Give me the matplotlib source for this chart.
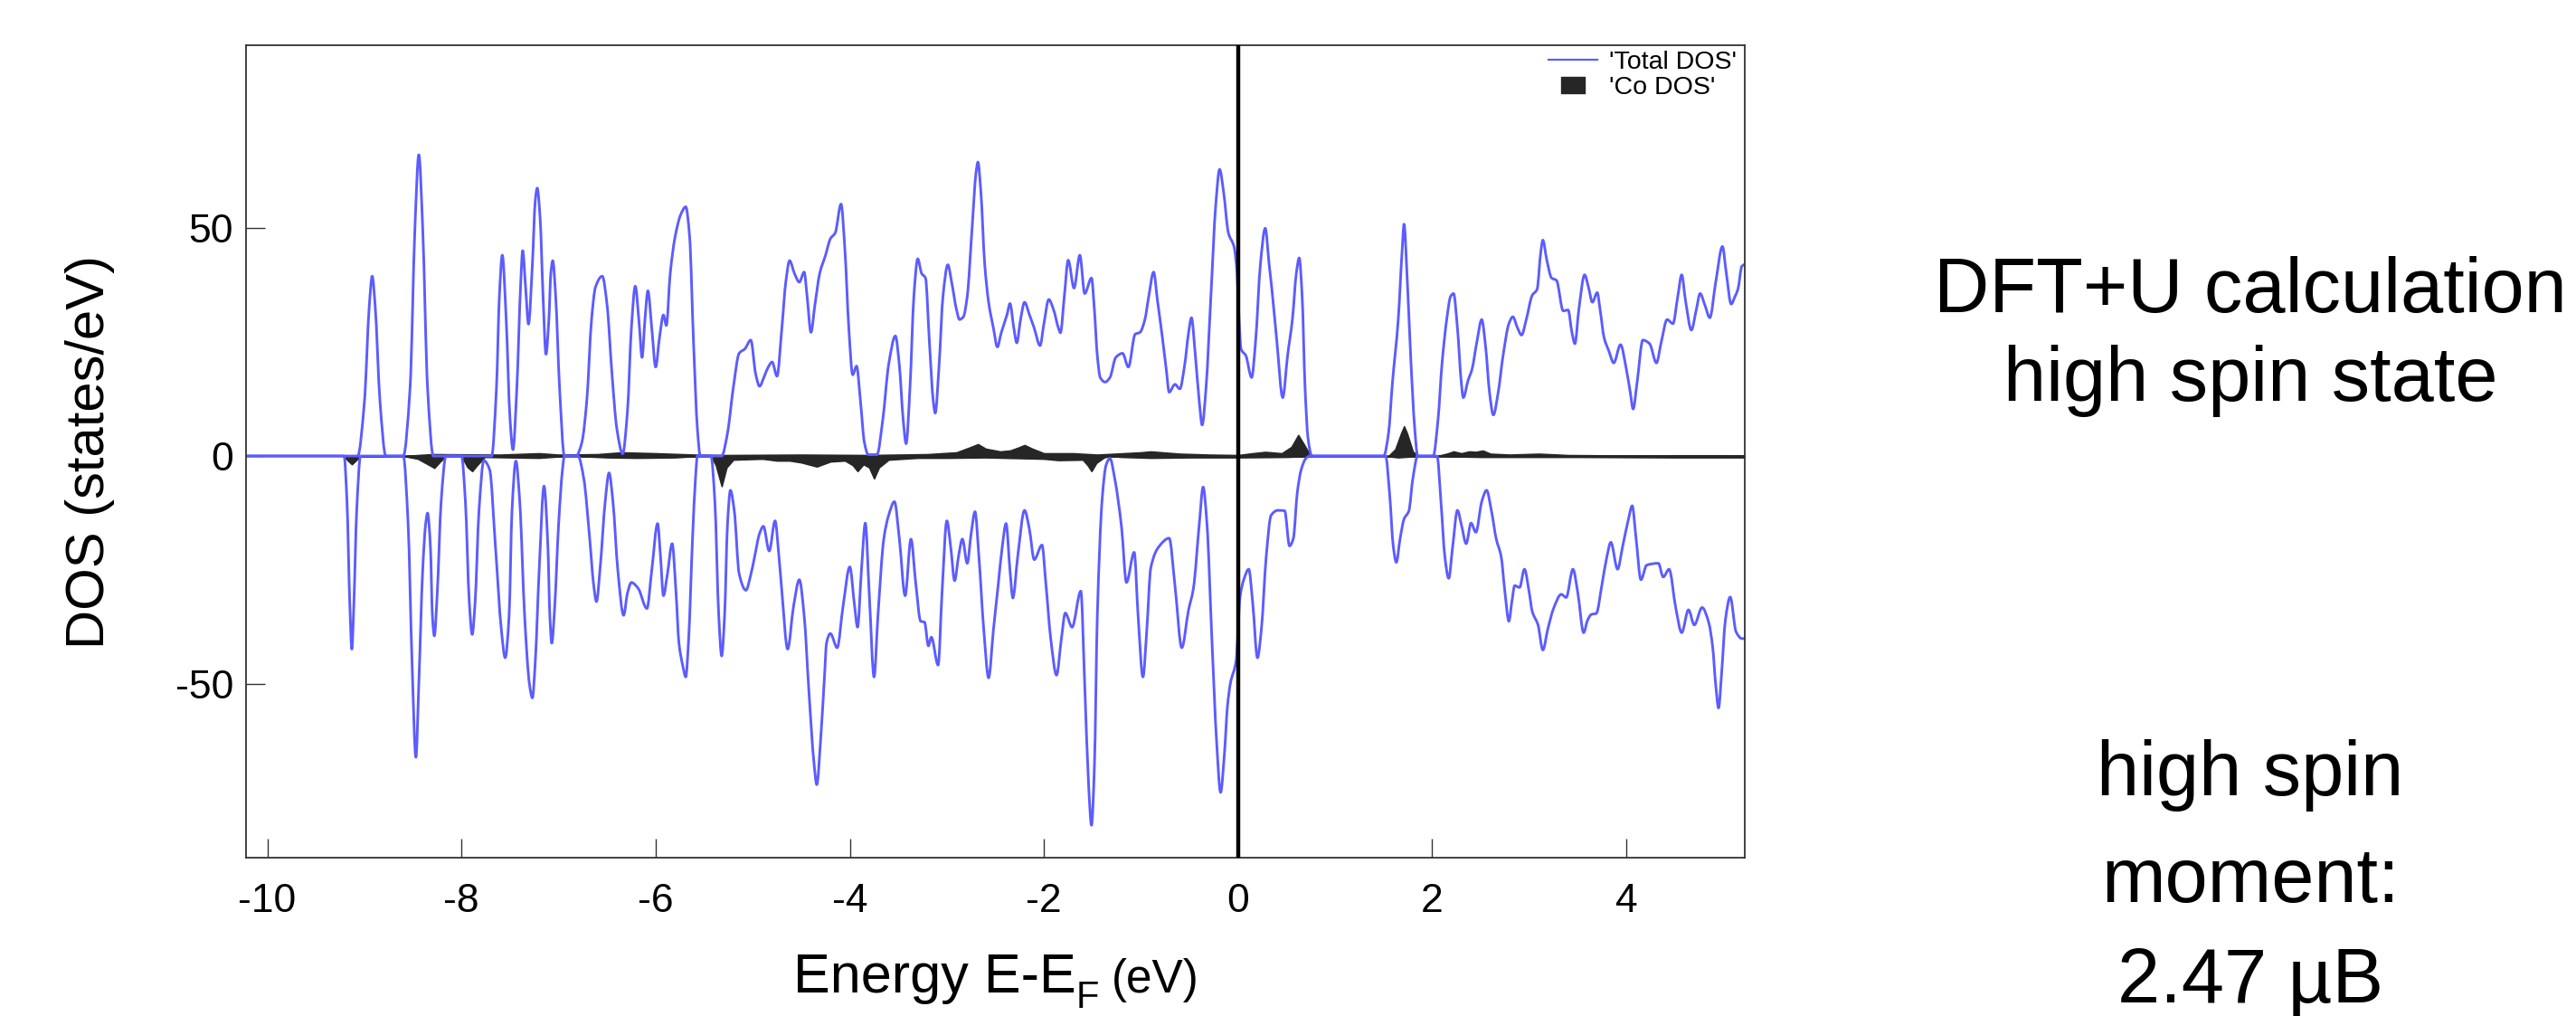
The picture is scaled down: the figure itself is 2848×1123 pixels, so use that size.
import matplotlib.pyplot as plt
from matplotlib.lines import Line2D
from matplotlib.path import Path
from matplotlib.patches import PathPatch
import numpy as np

plt.rcParams['font.family'] = ['Liberation Sans', 'DejaVu Sans']
plt.rcParams['axes.unicode_minus'] = False

# total DOS, majority spin: (E - E_F in eV, states/eV)
total_up = np.array([
    (-10.22, 0), (-9.07, 0), (-9.0, 12), (-8.95, 33), (-8.92, 39.4), (-8.89, 33), (-8.84, 12), (-8.78, 0),
    (-8.60, 0), (-8.53, 15), (-8.48, 50), (-8.44, 66), (-8.40, 50), (-8.35, 15), (-8.29, 0),
    (-7.69, 0), (-7.64, 15), (-7.61, 35), (-7.58, 44), (-7.54, 30), (-7.50, 8), (-7.47, 1.4), (-7.43, 15),
    (-7.39, 38), (-7.37, 45), (-7.34, 37), (-7.31, 28.9), (-7.27, 42), (-7.24, 56), (-7.22, 58.7), (-7.19, 52),
    (-7.16, 35), (-7.13, 22.3), (-7.10, 30), (-7.08, 40), (-7.06, 42.8), (-7.03, 35), (-6.99, 15), (-6.94, 0),
    (-6.82, 0), (-6.76, 3), (-6.71, 12), (-6.66, 30), (-6.62, 37), (-6.55, 39.4), (-6.50, 33), (-6.45, 18),
    (-6.40, 6), (-6.34, 0.5), (-6.29, 10), (-6.25, 28), (-6.21, 37.2), (-6.17, 29), (-6.14, 21.6), (-6.11, 30),
    (-6.08, 36.2), (-6.04, 28), (-6.00, 19.5), (-5.96, 26), (-5.92, 30.9), (-5.89, 28.6), (-5.85, 40), (-5.80, 48),
    (-5.74, 53), (-5.69, 54.6), (-5.65, 48), (-5.61, 25), (-5.57, 6), (-5.54, 0),
    (-5.32, 0), (-5.26, 5), (-5.20, 15), (-5.14, 22.5), (-5.08, 23.5), (-5.02, 25.4), (-4.97, 18), (-4.93, 15.3),
    (-4.88, 17.5), (-4.84, 19.5), (-4.80, 20.6), (-4.75, 17.5), (-4.70, 28), (-4.66, 38), (-4.62, 42.8),
    (-4.57, 40), (-4.52, 38.1), (-4.47, 40.3), (-4.44, 35), (-4.40, 27.1), (-4.36, 33), (-4.31, 40), (-4.25, 44),
    (-4.20, 47.6), (-4.15, 48.9), (-4.09, 55.2), (-4.05, 45), (-4.01, 28), (-3.97, 17.8), (-3.93, 19.7),
    (-3.89, 12), (-3.85, 3), (-3.81, 0.3), (-3.72, 0.3), (-3.66, 8), (-3.60, 20), (-3.53, 26.3), (-3.49, 20),
    (-3.45, 8), (-3.42, 2.7), (-3.38, 15), (-3.34, 35), (-3.30, 43.2), (-3.26, 40), (-3.22, 39), (-3.18, 25),
    (-3.14, 12), (-3.12, 9.4), (-3.08, 20), (-3.04, 35), (-2.99, 41.9), (-2.95, 38), (-2.90, 32), (-2.87, 29.9),
    (-2.83, 30.5), (-2.79, 35), (-2.74, 50), (-2.70, 62), (-2.68, 64.4), (-2.65, 58), (-2.61, 42), (-2.57, 33.7),
    (-2.52, 28), (-2.48, 23.9), (-2.44, 27), (-2.38, 31), (-2.35, 33.4), (-2.31, 28), (-2.28, 24.8), (-2.24, 30),
    (-2.20, 33.7), (-2.15, 31), (-2.10, 28), (-2.04, 24.2), (-2.00, 29), (-1.95, 34.3), (-1.90, 32), (-1.85, 28),
    (-1.83, 27), (-1.79, 35), (-1.75, 42.9), (-1.69, 36.8), (-1.63, 44), (-1.58, 35.6), (-1.51, 39), (-1.48, 32),
    (-1.45, 22), (-1.42, 17.2), (-1.37, 16.2), (-1.32, 17.2), (-1.26, 21.6), (-1.19, 22.5), (-1.13, 19.5),
    (-1.06, 26.7), (-1.01, 27.1), (-0.96, 29.9), (-0.92, 35), (-0.87, 40.3), (-0.83, 34), (-0.78, 26),
    (-0.74, 19), (-0.71, 14), (-0.65, 15.7), (-0.60, 14.7), (-0.55, 20), (-0.51, 27), (-0.48, 30.3), (-0.44, 22),
    (-0.40, 12), (-0.37, 6.8), (-0.33, 15), (-0.28, 35), (-0.23, 55), (-0.19, 62.8), (-0.15, 58), (-0.10, 48.9),
    (-0.04, 45.7), (-0.01, 40), (0.01, 30), (0.03, 23.5), (0.08, 22), (0.14, 17.2), (0.18, 25), (0.23, 42),
    (0.28, 49.9), (0.32, 42), (0.35, 36.2), (0.40, 25), (0.46, 12.8), (0.51, 22), (0.56, 30), (0.60, 40),
    (0.63, 43.4), (0.66, 35), (0.69, 15), (0.72, 4), (0.76, 0),
    (1.50, 0), (1.55, 5), (1.59, 16), (1.65, 29.9), (1.69, 45), (1.71, 50.8), (1.74, 40), (1.78, 21), (1.82, 6),
    (1.85, 0),
    (2.01, 0), (2.06, 8), (2.10, 20), (2.15, 30), (2.19, 35), (2.22, 35.6), (2.26, 28), (2.30, 16), (2.32, 12.8),
    (2.37, 16.6), (2.41, 19), (2.46, 25), (2.51, 29.9), (2.55, 24), (2.59, 14), (2.63, 9), (2.68, 14), (2.73, 22),
    (2.79, 29), (2.83, 30.5), (2.88, 28), (2.92, 26.5), (2.97, 30), (3.03, 35.2), (3.08, 36.5), (3.12, 45),
    (3.14, 47.3), (3.18, 43), (3.23, 39), (3.28, 38.5), (3.35, 31.8), (3.40, 32), (3.44, 27), (3.47, 24.6),
    (3.51, 32), (3.57, 39.7), (3.61, 37), (3.65, 33.7), (3.70, 35.8), (3.73, 32), (3.77, 26), (3.82, 23),
    (3.87, 20.4), (3.94, 24.4), (4.00, 19), (4.04, 14), (4.07, 10.3), (4.11, 16), (4.17, 25.4), (4.24, 24.6),
    (4.31, 20.4), (4.36, 25), (4.42, 29.9), (4.48, 29), (4.53, 35), (4.57, 39.7), (4.61, 34), (4.67, 27.6),
    (4.72, 32), (4.76, 35.6), (4.81, 33), (4.86, 30.3), (4.92, 38), (4.99, 45.9), (5.03, 40), (5.08, 33.3),
    (5.12, 35), (5.15, 36.6), (5.19, 41.6), (5.22, 42),
])

# total DOS, minority spin (drawn negative)
total_dn = np.array([
    (-10.22, 0), (-9.21, 0), (-9.18, -10), (-9.15, -33), (-9.13, -42.3), (-9.11, -33), (-9.08, -12), (-9.04, 0),
    (-8.60, 0), (-8.55, -15), (-8.51, -45), (-8.47, -66), (-8.44, -50), (-8.40, -25), (-8.37, -15),
    (-8.35, -12.5), (-8.32, -20), (-8.30, -35), (-8.28, -39.4), (-8.25, -30), (-8.21, -10), (-8.16, 0),
    (-8.00, 0), (-7.96, -10), (-7.92, -32), (-7.89, -39.1), (-7.86, -32), (-7.82, -12), (-7.77, -1),
    (-7.71, -3), (-7.65, -20), (-7.59, -38), (-7.55, -44.2), (-7.51, -35), (-7.48, -12), (-7.44, -1.1),
    (-7.40, -10), (-7.35, -35), (-7.30, -50), (-7.27, -53), (-7.24, -45), (-7.20, -25), (-7.15, -6.6),
    (-7.11, -20), (-7.09, -35), (-7.07, -41), (-7.04, -33), (-7.00, -15), (-6.96, -3), (-6.94, 0),
    (-6.80, 0), (-6.74, -5), (-6.68, -18), (-6.64, -28), (-6.61, -31.9), (-6.57, -24), (-6.52, -10),
    (-6.48, -3.7), (-6.44, -10), (-6.39, -25), (-6.33, -34.9), (-6.29, -30), (-6.25, -27.7), (-6.18, -29),
    (-6.09, -33.4), (-6.04, -25), (-5.98, -14.8), (-5.95, -22), (-5.92, -30.6), (-5.88, -26), (-5.83, -19.2),
    (-5.79, -30), (-5.76, -41), (-5.72, -46), (-5.69, -48.4), (-5.66, -40), (-5.62, -18), (-5.59, -5),
    (-5.57, 0),
    (-5.43, 0), (-5.39, -10), (-5.35, -35), (-5.32, -43.8), (-5.29, -35), (-5.26, -15), (-5.23, -7.5),
    (-5.19, -12), (-5.14, -25.8), (-5.07, -29.4), (-5.02, -26), (-4.98, -22), (-4.93, -17), (-4.89, -15.4),
    (-4.83, -20.8), (-4.77, -14.2), (-4.73, -22), (-4.70, -29.6), (-4.64, -42.3), (-4.58, -33), (-4.52, -27.1),
    (-4.47, -35), (-4.42, -52), (-4.37, -67), (-4.34, -72), (-4.30, -62), (-4.26, -48), (-4.24, -41),
    (-4.20, -38.9), (-4.13, -42), (-4.07, -33), (-4.00, -24.3), (-3.95, -33), (-3.92, -37.5), (-3.88, -25),
    (-3.84, -14.7), (-3.80, -30), (-3.75, -48.4), (-3.71, -35), (-3.65, -18.2), (-3.60, -13), (-3.54, -10),
    (-3.49, -18), (-3.43, -30.6), (-3.37, -18.2), (-3.32, -28), (-3.27, -36.2), (-3.23, -36.4), (-3.19, -41.6),
    (-3.16, -39.7), (-3.09, -45.8), (-3.05, -30), (-3.00, -14.2), (-2.96, -20), (-2.92, -27.3), (-2.88, -22),
    (-2.84, -18.2), (-2.79, -23.5), (-2.75, -17), (-2.71, -12.2), (-2.67, -22), (-2.62, -38), (-2.57, -48.6),
    (-2.52, -38), (-2.47, -28), (-2.43, -20), (-2.39, -14.8), (-2.35, -25), (-2.32, -31.1), (-2.27, -22),
    (-2.20, -11.9), (-2.15, -16), (-2.10, -22.7), (-2.02, -19.5), (-1.98, -28), (-1.93, -40), (-1.87, -48),
    (-1.82, -40), (-1.78, -34.4), (-1.71, -37.5), (-1.62, -29.6), (-1.58, -50), (-1.54, -72), (-1.51, -80.9),
    (-1.48, -68), (-1.45, -35), (-1.40, -9.4), (-1.36, -2), (-1.32, -0.5), (-1.27, -5), (-1.20, -15.7),
    (-1.15, -27.7), (-1.07, -21.1), (-1.03, -35), (-0.98, -48.4), (-0.94, -38), (-0.90, -24.6), (-0.81, -19.7),
    (-0.71, -18), (-0.65, -28.4), (-0.58, -42), (-0.51, -33.7), (-0.46, -29), (-0.40, -15), (-0.36, -6.8),
    (-0.32, -15), (-0.27, -40), (-0.22, -63), (-0.18, -73.7), (-0.14, -65), (-0.11, -55), (-0.08, -49.9),
    (-0.02, -44.8), (0.02, -30.9), (0.06, -27), (0.11, -24.8), (0.15, -32), (0.20, -44.2), (0.24, -38),
    (0.29, -22), (0.34, -13), (0.41, -11.9), (0.48, -12), (0.53, -19.7), (0.57, -18), (0.61, -8), (0.65, -3),
    (0.70, -0.5), (0.74, 0),
    (1.52, 0), (1.56, -8), (1.60, -20), (1.63, -23.3), (1.67, -18), (1.71, -13.8), (1.76, -12), (1.80, -5),
    (1.85, 0),
    (2.05, 0), (2.09, -10), (2.13, -22), (2.17, -26.8), (2.21, -20), (2.26, -11.9), (2.30, -15), (2.35, -19.2),
    (2.40, -14.7), (2.45, -16.7), (2.51, -10), (2.56, -7.5), (2.61, -12), (2.66, -18.2), (2.71, -22),
    (2.75, -30), (2.79, -36.2), (2.82, -32), (2.85, -28.4), (2.90, -28.8), (2.95, -24.8), (3.00, -30),
    (3.03, -34), (3.09, -37), (3.14, -42.5), (3.19, -38), (3.25, -33.4), (3.33, -30.3), (3.38, -31),
    (3.45, -24.8), (3.50, -30), (3.56, -38.7), (3.60, -36), (3.64, -34.7), (3.69, -34.5), (3.75, -28),
    (3.80, -22), (3.84, -18.9), (3.91, -24.8), (3.96, -20), (4.02, -14), (4.06, -10.9), (4.10, -18),
    (4.15, -27.1), (4.21, -23.9), (4.33, -23.5), (4.38, -26.5), (4.44, -24.8), (4.51, -33.4), (4.57, -38.7),
    (4.64, -33.7), (4.70, -37), (4.78, -33.2), (4.85, -36.6), (4.89, -42), (4.92, -50), (4.95, -55.2),
    (4.98, -48), (5.02, -36), (5.07, -30.9), (5.13, -38.5), (5.19, -40), (5.22, -40),
])

# Co projected DOS, majority / minority
co_up = np.array([
    (-9.2, 0), (-8.6, 0), (-8.3, 0.4), (-7.6, 0.3), (-7.2, 0.6), (-7.0, 0.3), (-6.6, 0.4), (-6.35, 0.8),
    (-6.0, 0.6), (-5.6, 0.3), (-5.3, 0.2), (-4.5, 0.3), (-3.8, 0.2), (-3.2, 0.4), (-2.9, 0.8), (-2.75, 2.0),
    (-2.68, 2.6), (-2.6, 1.6), (-2.45, 1.0), (-2.35, 1.2), (-2.27, 1.8), (-2.2, 2.4), (-2.12, 1.6), (-2.0, 0.6),
    (-1.7, 0.6), (-1.45, 0.3), (-1.0, 0.8), (-0.9, 1.0), (-0.6, 0.5), (-0.3, 0.3), (0.0, 0.2), (0.15, 0.6),
    (0.28, 0.9), (0.45, 0.6), (0.55, 2.0), (0.62, 4.6), (0.68, 2.5), (0.74, 0.3), (0.76, 0),
    (1.55, 0), (1.62, 1.5), (1.68, 5), (1.71, 6.5), (1.74, 5), (1.80, 1.0), (1.85, 0),
    (2.05, 0), (2.15, 0.5), (2.22, 1.0), (2.30, 0.6), (2.38, 1.0), (2.45, 0.9), (2.52, 1.2), (2.60, 0.5),
    (2.8, 0.3), (3.1, 0.5), (3.4, 0.2), (4.0, 0.1), (4.5, 0.15), (5.0, 0.15), (5.22, 0.1),
])
co_dn = np.array([
    (-9.22, 0), (-9.18, -0.8), (-9.13, -1.8), (-9.08, -0.8), (-9.04, 0), (-8.60, 0), (-8.45, -0.6),
    (-8.33, -2.0), (-8.28, -2.6), (-8.22, -1.2), (-8.16, 0), (-8.0, 0), (-7.94, -2.4), (-7.89, -3.3),
    (-7.84, -2.0), (-7.76, -0.2), (-7.5, -0.3), (-7.2, -0.4), (-6.94, 0), (-6.8, 0), (-6.5, -0.3),
    (-6.2, -0.4), (-5.8, -0.3), (-5.57, 0), (-5.43, 0), (-5.38, -2), (-5.32, -6.6), (-5.27, -2.5),
    (-5.20, -0.8), (-4.9, -0.6), (-4.75, -1.0), (-4.62, -1.0), (-4.5, -1.4), (-4.34, -2.3), (-4.2, -1.2),
    (-4.05, -1.0), (-3.97, -2.0), (-3.92, -3.3), (-3.86, -1.8), (-3.80, -2.5), (-3.75, -4.9), (-3.70, -2.5),
    (-3.6, -0.8), (-3.3, -0.4), (-3.0, -0.4), (-2.6, -0.3), (-2.0, -0.6), (-1.85, -0.9), (-1.6, -0.8),
    (-1.55, -2), (-1.51, -3.3), (-1.46, -1.5), (-1.38, -0.3), (-1.32, 0), (-1.2, -0.2), (-0.9, -0.4),
    (-0.5, -0.3), (0.0, -0.3), (0.5, -0.2), (0.74, 0), (1.52, 0), (1.65, -0.3), (1.85, 0), (2.05, 0),
    (2.5, -0.2), (3.5, -0.2), (4.5, -0.3), (5.22, -0.3),
])

xticks = [-10, -8, -6, -4, -2, 0, 2, 4]
yticks = [-50, 0, 50]

blue = '#5c5cff'
dark = '#262626'


def smooth_path(pts):
    """Path through the points, joined by monotone cubic Bezier segments."""
    x, y = pts[:, 0], pts[:, 1]
    h = np.diff(x)
    d = np.diff(y) / h
    m = np.zeros_like(y)
    m[0], m[-1] = d[0], d[-1]
    for k in range(1, len(x) - 1):
        if d[k - 1] * d[k] > 0:
            w1 = 2 * h[k] + h[k - 1]
            w2 = h[k] + 2 * h[k - 1]
            m[k] = (w1 + w2) / (w1 / d[k - 1] + w2 / d[k])
    verts = [(x[0], y[0])]
    codes = [Path.MOVETO]
    for k in range(len(x) - 1):
        verts += [(x[k] + h[k] / 3, y[k] + m[k] * h[k] / 3),
                  (x[k + 1] - h[k] / 3, y[k + 1] - m[k + 1] * h[k] / 3),
                  (x[k + 1], y[k + 1])]
        codes += [Path.CURVE4] * 3
    return Path(verts, codes)


fig = plt.figure(figsize=(28.48, 11.23), dpi=100)
W, H = 2848, 1123
ax = fig.add_axes([272 / W, 1 - 948 / H, (1929 - 272) / W, (948 - 50) / H])

ax.fill_between(co_up[:, 0], 0, co_up[:, 1], color=dark, lw=1.2, zorder=1)
ax.fill_between(co_dn[:, 0], 0, co_dn[:, 1], color=dark, lw=1.2, zorder=1)
for spin in (total_up, total_dn):
    ax.add_patch(PathPatch(smooth_path(spin), fill=False, edgecolor=blue, lw=2.1,
                           joinstyle='round', zorder=2))
ax.axvline(0, color='black', lw=3.2, zorder=3)

ax.set_xlim(-10.22, 5.22)
ax.set_ylim(-88, 90)
ax.set_xticks(xticks)
ax.set_yticks(yticks)
ax.tick_params(direction='in', length=15, width=1.0, color='#333333', labelsize=32)
ax.tick_params(axis='x', pad=20)
ax.tick_params(axis='y', pad=10)
for s in ax.spines.values():
    s.set_linewidth(1.3)
    s.set_color('#333333')

box = [(-1.5, -1), (1.5, -1), (1.5, 1), (-1.5, 1), (-1.5, -1)]
handles = [Line2D([], [], color=blue, lw=1.6),
           Line2D([], [], color=dark, marker=box, ls='', markersize=19)]
ax.legend(handles, ["'Total DOS'", "'Co DOS'"], loc='upper right', frameon=False,
          bbox_to_anchor=((1920 - 272) / 1657, 0.993), borderaxespad=0, borderpad=0,
          fontsize=20.5, handlelength=1.9, handletextpad=0.45, labelspacing=0.05)

# axis titles
fig.text(100 / W, 1 - 499 / H, 'DOS (states/eV)', rotation=90, ha='center', va='center', fontsize=43)
xl = fig.text(877 / W, 1 - 1097 / H, 'Energy E-E', fontsize=44, va='baseline')
sub = ax.annotate('F', xy=(1, 1 - 1097 / H), xycoords=(xl, 'figure fraction'),
                  xytext=(0, -12), textcoords='offset points', fontsize=30, va='baseline')
ax.annotate('(eV)', xy=(1, 1 - 1097 / H), xycoords=(sub, 'figure fraction'),
            xytext=(10, 0), textcoords='offset points', fontsize=37, va='baseline')

# annotations at the right
cx = 2488 / W
fig.text(cx, 1 - 345 / H, 'DFT+U calculation', ha='center', va='baseline', fontsize=61)
fig.text(cx, 1 - 443 / H, 'high spin state', ha='center', va='baseline', fontsize=61)
fig.text(cx, 1 - 879 / H, 'high spin', ha='center', va='baseline', fontsize=61)
fig.text(cx, 1 - 997 / H, 'moment:', ha='center', va='baseline', fontsize=61)
fig.text(cx, 1 - 1108 / H, '2.47 \u00b5B', ha='center', va='baseline', fontsize=61)

fig.savefig('out.png', dpi=100)
